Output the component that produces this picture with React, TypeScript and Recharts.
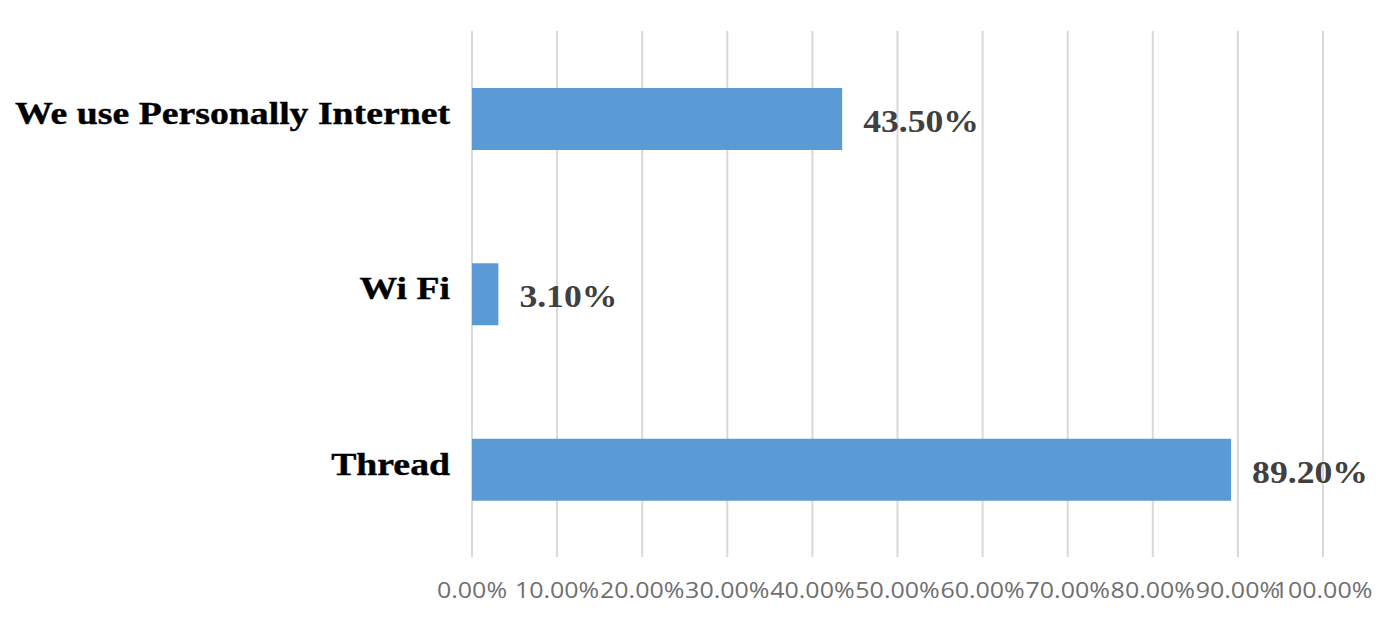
import React from "react";
import { BarChart, Bar, XAxis, YAxis, CartesianGrid, LabelList } from "recharts";

const categories = ["We use Personally Internet", "Wi Fi", "Thread"];
const shares = [0.435, 0.031, 0.892];
const xTicks = [0, 0.1, 0.2, 0.3, 0.4, 0.5, 0.6, 0.7, 0.8, 0.9, 1.0];

const data = categories.map((name, i) => ({ name, value: shares[i] }));

const pct = (v: number) => `${(v * 100).toFixed(2)}%`;

// the source image is stretched sideways, so text gets a scaleX
const XTick = (props: any) => {
  const { x, y, payload } = props;
  return (
    <g transform={`translate(${x},${y + 2})`}>
      <text
        transform="scale(1.19,1)"
        textAnchor="middle"
        dy="0.71em"
        fill="#6f6f6f"
        fontSize={21}
        fontFamily="Open Sans"
      >
        {pct(payload.value)}
      </text>
    </g>
  );
};

const YTick = (props: any) => {
  const { x, y, payload } = props;
  return (
    <g transform={`translate(${x},${y - 6})`}>
      <text
        transform="scale(1.18,1)"
        textAnchor="end"
        dy="0.355em"
        fill="#000"
        stroke="#000"
        strokeWidth={0.4}
        fontSize={32}
        fontWeight="bold"
        fontFamily="Liberation Serif"
      >
        {payload.value}
      </text>
    </g>
  );
};

const ValueLabel = (props: any) => {
  const { x, y, width, height, value } = props;
  return (
    <g transform={`translate(${Number(x) + Number(width) + 21},${Number(y) + Number(height) / 2 + 2})`}>
      <text
        transform="scale(1.15,1)"
        textAnchor="start"
        dy="0.355em"
        fill="#404040"
        fontSize={31}
        fontWeight="bold"
        fontFamily="Liberation Serif"
      >
        {pct(Number(value))}
      </text>
    </g>
  );
};

export default function App() {
  return (
    <div style={{ position: "absolute", left: 0, top: 0, width: 1376, height: 619, background: "#fff" }}>
      <BarChart
        width={1376}
        height={619}
        data={data}
        layout="vertical"
        margin={{ top: 31, right: 53, bottom: 0, left: 0 }}
      >
        <CartesianGrid horizontal={false} stroke="#d9d9d9" strokeWidth={2} />
        <XAxis
          type="number"
          domain={[0, 1]}
          ticks={xTicks}
          axisLine={false}
          tickLine={false}
          tickSize={0}
          tickMargin={24}
          height={62}
          interval={0}
          tick={XTick}
        />
        <YAxis
          type="category"
          dataKey="name"
          width={472}
          axisLine={false}
          tickLine={false}
          tickSize={0}
          tickMargin={22}
          tick={YTick}
        />
        <Bar dataKey="value" fill="#5b9bd5" barSize={62} isAnimationActive={false}>
          <LabelList dataKey="value" content={ValueLabel} />
        </Bar>
      </BarChart>
    </div>
  );
}
